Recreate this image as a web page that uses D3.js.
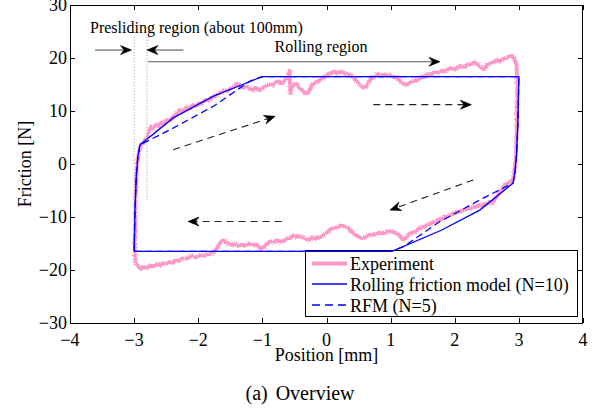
<!DOCTYPE html>
<html>
<head>
<meta charset="utf-8">
<script src="https://cdn.jsdelivr.net/npm/d3@7"></script>
<style>
  body { margin: 0; background: #fff; }
  svg { display: block; }
</style>
</head>
<body>
<svg id="chart" width="600" height="408" font-family="'Liberation Serif', 'Times New Roman', 'DejaVu Serif', serif"></svg>
<script>
// Axis ticks
const xTicks = [-4, -3, -2, -1, 0, 1, 2, 3, 4];
const yTicks = [-30, -20, -10, 0, 10, 20, 30];
const seriesNames = ["Experiment", "Rolling friction model (N=10)", "RFM (N=5)"];

// Measured friction loop (position mm, friction N), traced around the loop
const expX = [-2.99, -2.985, -2.975, -2.96, -2.93, -2.89, -2.85,
  -2.81, -2.77, -2.74, -2.70, -2.66, -2.62, -2.58, -2.54, -2.49, -2.44, -2.39, -2.34, -2.29, -2.24,
  -2.19, -2.14, -2.09, -2.04, -1.99, -1.94, -1.89, -1.84, -1.79, -1.74, -1.69, -1.64, -1.59, -1.54,
  -1.49, -1.44, -1.39, -1.35, -1.30, -1.25, -1.20, -1.15, -1.10, -1.05, -1.00, -0.95, -0.90, -0.85,
  -0.80, -0.75, -0.70, -0.65, -0.60, -0.575, -0.565, -0.52, -0.47, -0.42, -0.37, -0.32, -0.28, -0.23,
  -0.18, -0.13, -0.08, -0.03, 0.02, 0.07, 0.12, 0.17, 0.22, 0.27, 0.32, 0.37, 0.42, 0.47, 0.52, 0.57,
  0.62, 0.66, 0.70, 0.75, 0.80, 0.85, 0.90, 0.95, 1.00, 1.05, 1.10, 1.15, 1.20, 1.25, 1.30, 1.35,
  1.40, 1.45, 1.50, 1.55, 1.60, 1.65, 1.70, 1.75, 1.80, 1.85, 1.90, 1.95, 2.00, 2.05, 2.10, 2.15,
  2.20, 2.25, 2.30, 2.35, 2.40, 2.45, 2.50, 2.55, 2.60, 2.65, 2.70, 2.75, 2.80, 2.85, 2.89, 2.93, 2.96,
  2.975, 2.975, 2.965, 2.95, 2.93, 2.90,
  2.86, 2.82, 2.78, 2.74, 2.70, 2.66, 2.62, 2.58, 2.54, 2.50, 2.46, 2.42, 2.38, 2.34, 2.30, 2.25,
  2.20, 2.15, 2.10, 2.05, 2.00, 1.95, 1.90, 1.85, 1.80, 1.75, 1.70, 1.65, 1.60, 1.55, 1.50, 1.45,
  1.40, 1.35, 1.30, 1.25, 1.21, 1.17, 1.13, 1.08, 1.03, 0.98, 0.93, 0.88, 0.83, 0.78, 0.73, 0.68,
  0.63, 0.58, 0.53, 0.48, 0.43, 0.38, 0.33, 0.28, 0.23, 0.18, 0.13, 0.08, 0.03, -0.02, -0.07, -0.12,
  -0.17, -0.22, -0.27, -0.32, -0.37, -0.42, -0.47, -0.52, -0.57, -0.62, -0.67, -0.72, -0.77, -0.82,
  -0.87, -0.92, -0.97, -1.02, -1.07, -1.12, -1.17, -1.22, -1.27, -1.32, -1.37, -1.42, -1.47, -1.52,
  -1.57, -1.62, -1.66, -1.70, -1.75, -1.80, -1.85, -1.90, -1.95, -2.00, -2.05, -2.10, -2.15, -2.20,
  -2.25, -2.30, -2.35, -2.40, -2.45, -2.50, -2.55, -2.60, -2.65, -2.70, -2.75, -2.80, -2.85, -2.89,
  -2.93, -2.96, -2.98, -2.99];
const expY = [-17.6, -12.0, -6.0, -1.0, 2.0, 3.6, 4.1,
  4.9, 6.0, 7.0, 6.7, 7.4, 7.1, 7.8, 7.6, 8.3, 8.2, 9.0, 9.5, 10.2, 9.9,
  10.6, 10.4, 11.1, 10.9, 11.5, 11.4, 12.1, 11.9, 12.6, 12.8, 13.2, 13.5, 13.9, 13.8,
  14.3, 14.6, 15.2, 14.7, 14.3, 14.6, 14.2, 14.0, 14.4, 13.9, 14.3, 14.7, 15.0, 14.8,
  15.3, 15.6, 15.2, 15.8, 16.4, 17.6, 13.4, 14.9, 15.1, 14.3, 13.8, 13.3, 13.6, 14.8,
  15.3, 15.6, 16.1, 16.5, 16.9, 17.2, 17.5, 17.1, 17.4, 17.2, 17.0, 16.8, 16.4, 15.6, 15.0, 14.4,
  14.5, 15.5, 16.2, 16.4, 16.9, 16.6, 16.9, 16.6, 16.8, 16.4, 16.2, 15.7, 15.1, 14.9, 15.3, 15.6,
  15.8, 16.1, 16.4, 16.6, 16.9, 17.0, 17.3, 17.2, 17.6, 17.5, 17.9, 18.1, 17.8, 18.2, 18.5, 18.3,
  18.7, 18.8, 19.2, 18.9, 18.3, 17.9, 18.6, 19.0, 19.2, 19.6, 19.4, 19.8, 20.0, 20.3, 20.4, 19.9, 18.8,
  16.5, 12.0, 6.0, 1.0, -1.5, -3.0,
  -3.4, -3.7, -4.0, -4.8, -5.3, -6.0, -6.8, -7.4, -7.1, -7.6, -7.5, -7.9, -7.7, -8.1, -8.0, -8.4,
  -8.3, -8.7, -8.8, -9.2, -9.1, -9.6, -9.7, -10.0, -10.3, -10.5, -10.9, -11.0, -11.5, -11.7, -12.0, -12.1,
  -12.6, -12.9, -13.1, -13.8, -14.4, -14.0, -13.4, -13.0, -12.8, -12.7, -12.9, -13.1, -12.9, -13.2, -13.4, -13.3,
  -13.6, -14.0, -13.9, -13.6, -13.2, -12.6, -12.0, -11.8, -11.5, -11.9, -12.1, -12.2, -12.6, -13.2, -13.6, -13.9,
  -14.1, -13.8, -14.3, -14.2, -13.9, -13.6, -13.8, -13.5, -14.0, -14.1, -14.5, -14.7, -14.4, -14.8,
  -14.6, -14.9, -15.6, -16.0, -15.4, -15.2, -15.3, -15.0, -15.4, -15.2, -15.4, -15.1, -15.3, -15.1,
  -14.7, -14.4, -14.9, -15.8, -16.5, -16.9, -17.1, -17.3, -17.1, -17.4, -17.6, -17.3, -17.7, -17.9,
  -17.8, -18.3, -18.2, -18.6, -18.5, -18.8, -18.7, -19.1, -18.9, -19.3, -19.2, -19.6, -19.4, -19.8,
  -19.4, -18.9, -18.2, -17.6];

// Rolling friction model, N = 10 elements
const rfm10X = [-3.0, -2.985, -2.965, -2.94, -2.91, -2.39, -1.77, -1.0, 3.0, 2.985, 2.965, 2.94, 2.91, 2.39, 1.79, 1.02, -3.0];
const rfm10Y = [-16.5, -8.0, -2.0, 1.5, 3.6, 8.7, 12.75, 16.5, 16.5, 8.0, 2.0, -1.5, -3.6, -8.7, -12.5, -16.5, -16.5];

// Rolling friction model, N = 5 elements
const rfm5X = [-3.0, -2.985, -2.965, -2.94, -2.91, -2.45, -1.75, -1.2, -1.0, 3.0, 2.985, 2.965, 2.94, 2.91, 2.45, 1.75, 1.2, 1.0, -3.0];
const rfm5Y = [-16.5, -8.0, -2.0, 1.5, 3.6, 6.4, 11.0, 15.6, 16.5, 16.5, 8.0, 2.0, -1.5, -3.6, -6.4, -11.0, -15.6, -16.5, -16.5];

// Annotations in axis units
const boundaryX = [-3.0, -2.8];        // presliding region limits
const boundaryY = [24, -7];
const directionArrows = [               // [x0, y0, x1, y1] along the loop
  [-2.39, 2.7, -0.80, 9.0],
  [0.73, 11.2, 2.26, 11.2],
  [2.29, -3.0, 0.99, -8.7],
  [-0.70, -10.85, -2.16, -10.85]
];
const presArrows = [[-3.61, 21.5, -3.04, 21.5], [-2.23, 21.5, -2.8, 21.5]];
const rollArrow = [-2.78, 19.3, 1.77, 19.3];

const svg = d3.select("#chart");
const padL = 70, padR = 583, padT = 5, padB = 323;

const x = d3.scaleLinear().domain([-4, 4]).range([padL, padR]);
const y = d3.scaleLinear().domain([-30, 30]).range([padB, padT]);

// fine grain on the measured trace
const defs = svg.append("defs");
const f = defs.append("filter").attr("id", "grain")
  .attr("x", "-5%").attr("y", "-5%").attr("width", "110%").attr("height", "110%");
f.append("feTurbulence").attr("type", "fractalNoise").attr("baseFrequency", "0.9")
  .attr("numOctaves", 1).attr("seed", 4).attr("result", "n");
f.append("feDisplacementMap").attr("in", "SourceGraphic").attr("in2", "n")
  .attr("scale", 4).attr("xChannelSelector", "R").attr("yChannelSelector", "G");

defs.append("clipPath").attr("id", "plotclip").append("rect")
  .attr("x", padL).attr("y", padT).attr("width", padR - padL).attr("height", padB - padT);

// legend box drawn first so the loop lines stay visible along its top edge
const lg = svg.append("g");
lg.append("rect").attr("x", 305.5).attr("y", 250.5).attr("width", 272).attr("height", 66)
  .attr("fill", "#fff").attr("stroke", "#000").attr("stroke-width", 1);

const plot = svg.append("g").attr("clip-path", "url(#plotclip)");

const line = d3.line().x(d => x(d[0])).y(d => y(d[1]));
const expPts = expX.map((v, i) => [v, expY[i]]);
const r10Pts = rfm10X.map((v, i) => [v, rfm10Y[i]]);
const r5Pts = rfm5X.map((v, i) => [v, rfm5Y[i]]);

const pink = "#ff96c8";
plot.append("path").datum(expPts).attr("d", line)
  .attr("fill", "none").attr("stroke", pink).attr("stroke-width", 3.8)
  .attr("stroke-linejoin", "round").attr("filter", "url(#grain)");
plot.append("path").datum(r10Pts).attr("d", line)
  .attr("fill", "none").attr("stroke", "#0000ff").attr("stroke-width", 1.3);
plot.append("path").datum(r5Pts).attr("d", line)
  .attr("fill", "none").attr("stroke", "#0000ff").attr("stroke-width", 1.3)
  .attr("stroke-dasharray", "7,4");

// presliding boundaries
boundaryX.forEach(bx => {
  plot.append("line").attr("x1", x(bx)).attr("x2", x(bx))
    .attr("y1", y(boundaryY[0])).attr("y2", y(boundaryY[1]))
    .attr("stroke", "#999").attr("stroke-width", 1).attr("stroke-dasharray", "1,2");
});

// arrow helper: shaft plus a stealth head
function arrow(a, color, dash, headColor) {
  const x0 = x(a[0]), y0 = y(a[1]), x1 = x(a[2]), y1 = y(a[3]);
  const ang = Math.atan2(y1 - y0, x1 - x0);
  const L = 11, Wd = 4.5, notch = 7.5;
  const ex = x1 - Math.cos(ang) * notch, ey = y1 - Math.sin(ang) * notch;
  const sh = plot.append("line").attr("x1", x0).attr("y1", y0).attr("x2", ex).attr("y2", ey)
    .attr("stroke", color).attr("stroke-width", 1.1);
  if (dash) sh.attr("stroke-dasharray", dash);
  const c = Math.cos(ang), s = Math.sin(ang);
  const pt = (u, v) => [x1 + u * c - v * s, y1 + u * s + v * c];
  const p = [pt(0, 0), pt(-L, -Wd), pt(-notch, 0), pt(-L, Wd)];
  plot.append("path").attr("d", "M" + p.map(q => q.join(",")).join("L") + "Z")
    .attr("fill", headColor).attr("stroke", headColor).attr("stroke-width", 0.6);
}
directionArrows.forEach(a => arrow(a, "#222", "7,5", "#000"));
presArrows.forEach(a => arrow(a, "#555", null, "#000"));
arrow(rollArrow, "#555", null, "#000");

svg.append("text").attr("x", 90).attr("y", 33).attr("font-size", 16)
  .text("Presliding region (about 100mm)");
svg.append("text").attr("x", 321).attr("y", 52).attr("font-size", 16)
  .attr("text-anchor", "middle").text("Rolling region");

// frame and ticks
const frame = svg.append("g").attr("stroke", "#000").attr("stroke-width", 1).attr("fill", "none");
frame.append("rect").attr("x", padL + 0.5).attr("y", padT + 0.5)
  .attr("width", padR - padL - 1).attr("height", padB - padT);
xTicks.forEach(t => {
  const px = Math.round(x(t)) + 0.5;
  frame.append("line").attr("x1", px).attr("x2", px).attr("y1", padB).attr("y2", padB - 5);
  frame.append("line").attr("x1", px).attr("x2", px).attr("y1", padT).attr("y2", padT + 5);
});
yTicks.forEach(t => {
  const py = Math.round(y(t)) + 0.5;
  frame.append("line").attr("x1", padL).attr("x2", padL + 5).attr("y1", py).attr("y2", py);
  frame.append("line").attr("x1", padR).attr("x2", padR - 5).attr("y1", py).attr("y2", py);
});

const fmt = d3.format("");
svg.append("g").selectAll("text").data(xTicks).join("text")
  .attr("x", d => x(d)).attr("y", 346).attr("font-size", 18)
  .attr("text-anchor", "middle").text(d => fmt(d));
svg.append("g").selectAll("text").data(yTicks).join("text")
  .attr("x", 67).attr("y", d => y(d)).attr("dy", "0.36em").attr("font-size", 18)
  .attr("text-anchor", "end").text(d => fmt(d));

svg.append("text").attr("x", x(0)).attr("y", 361).attr("font-size", 18)
  .attr("text-anchor", "middle").text("Position [mm]");
svg.append("text").attr("transform", `translate(31,${y(0)}) rotate(-90)`)
  .attr("font-size", 18).attr("text-anchor", "middle").text("Friction [N]");

// caption
const cap = svg.append("text").attr("x", 300).attr("y", 400).attr("font-size", 20)
  .attr("text-anchor", "middle");
cap.append("tspan").text("(a)");
cap.append("tspan").attr("dx", 8).text("Overview");

// legend entries
const rows = [
  { name: seriesNames[0], color: pink, w: 3.8, dash: null, y: 263.5 },
  { name: seriesNames[1], color: "#0000ff", w: 1.3, dash: null, y: 284 },
  { name: seriesNames[2], color: "#0000ff", w: 1.3, dash: "8,5", y: 305 }
];
rows.forEach(r => {
  const l = lg.append("line").attr("x1", 312).attr("x2", 347).attr("y1", r.y).attr("y2", r.y)
    .attr("stroke", r.color).attr("stroke-width", r.w);
  if (r.dash) l.attr("stroke-dasharray", r.dash);
  lg.append("text").attr("x", 350).attr("y", r.y + 6.5).attr("font-size", 18).text(r.name);
});
</script>
</body>
</html>
